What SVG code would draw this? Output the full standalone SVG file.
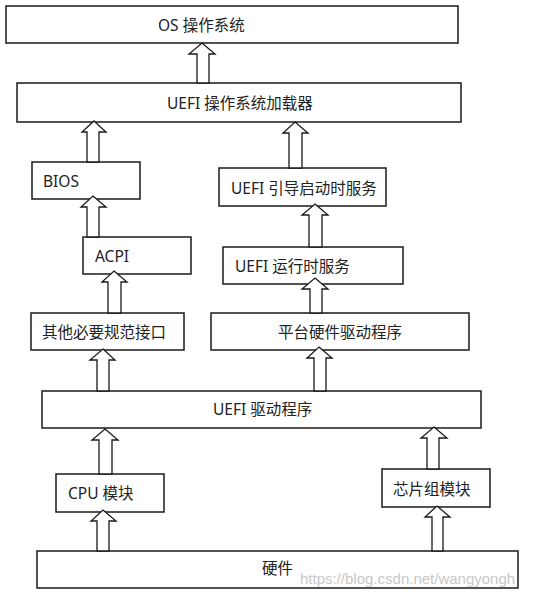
<svg xmlns="http://www.w3.org/2000/svg" width="554" height="596" viewBox="0 0 554 596">
<style>
.box{fill:#fff;stroke:#1a1a1a;stroke-width:1.5}
.arr{fill:#fff;stroke:#1a1a1a;stroke-width:1.3;stroke-linejoin:miter}
.t{font-family:"Noto Sans","Noto Sans CJK SC",sans-serif;font-size:15.5px;fill:#222;dominant-baseline:central}
.wm{font-family:"Liberation Sans",Arial,sans-serif;font-size:15px;fill:#c8c8c8}
</style>
<rect width="554" height="596" fill="#fff"/>
<g id="os"><rect class="box" x="6" y="6" width="452" height="37"/><text class="t" x="158" y="25">OS 操作系统</text></g>
<g id="loader"><rect class="box" x="17" y="83" width="444" height="39"/><text class="t" x="167" y="103">UEFI 操作系统加载器</text></g>
<g id="bios"><rect class="box" x="32" y="162" width="108" height="37"/><text class="t" x="43" y="181">BIOS</text></g>
<g id="boot"><rect class="box" x="219" y="168" width="167" height="38"/><text class="t" x="231" y="188">UEFI 引导启动时服务</text></g>
<g id="acpi"><rect class="box" x="83" y="237" width="108" height="37"/><text class="t" x="95" y="256">ACPI</text></g>
<g id="runtime"><rect class="box" x="223" y="247" width="180" height="37"/><text class="t" x="235" y="266">UEFI 运行时服务</text></g>
<g id="other"><rect class="box" x="31" y="313" width="153" height="37"/><text class="t" x="42" y="332">其他必要规范接口</text></g>
<g id="platform"><rect class="box" x="211" y="313" width="258" height="37"/><text class="t" x="278" y="332">平台硬件驱动程序</text></g>
<g id="drivers"><rect class="box" x="42" y="391" width="439" height="37"/><text class="t" x="213" y="409">UEFI 驱动程序</text></g>
<g id="cpu"><rect class="box" x="56" y="474" width="108" height="38"/><text class="t" x="68" y="493">CPU 模块</text></g>
<g id="chipset"><rect class="box" x="382" y="469" width="108" height="38"/><text class="t" x="393" y="489">芯片组模块</text></g>
<g id="hardware"><rect class="box" x="37" y="551" width="481" height="37"/><text class="t" x="262" y="568">硬件</text></g>
<g id="connectors">
<polygon class="arr" points="202,43 215,54 209,54 209,83 197,83 197,54 189,54"/>
<polygon class="arr" points="94,121 106,132 99,132 99,162 87,162 87,132 82,132"/>
<polygon class="arr" points="295,122 308,133 302,133 302,168 289,168 289,133 283,133"/>
<polygon class="arr" points="93,196 106,207 99,207 99,237 87,237 87,207 81,207"/>
<polygon class="arr" points="315,204 328,215 322,215 322,247 309,247 309,215 302,215"/>
<polygon class="arr" points="114,271 127,282 121,282 121,313 108,313 108,282 102,282"/>
<polygon class="arr" points="315,278 328,289 322,289 322,313 310,313 310,289 302,289"/>
<polygon class="arr" points="103,349 115,360 109,360 109,391 97,391 97,360 90,360"/>
<polygon class="arr" points="319,347 332,358 326,358 326,391 314,391 314,358 307,358"/>
<polygon class="arr" points="105,429 118,440 112,440 112,474 99,474 99,440 92,440"/>
<polygon class="arr" points="434,427 447,438 439,438 439,469 427,469 427,438 421,438"/>
<polygon class="arr" points="103,510 116,521 109,521 109,551 97,551 97,521 91,521"/>
<polygon class="arr" points="437,506 450,517 443,517 443,551 432,551 432,517 425,517"/>
</g>
<text class="wm" x="300" y="584">https://blog.csdn.net/wangyongh</text>
</svg>
